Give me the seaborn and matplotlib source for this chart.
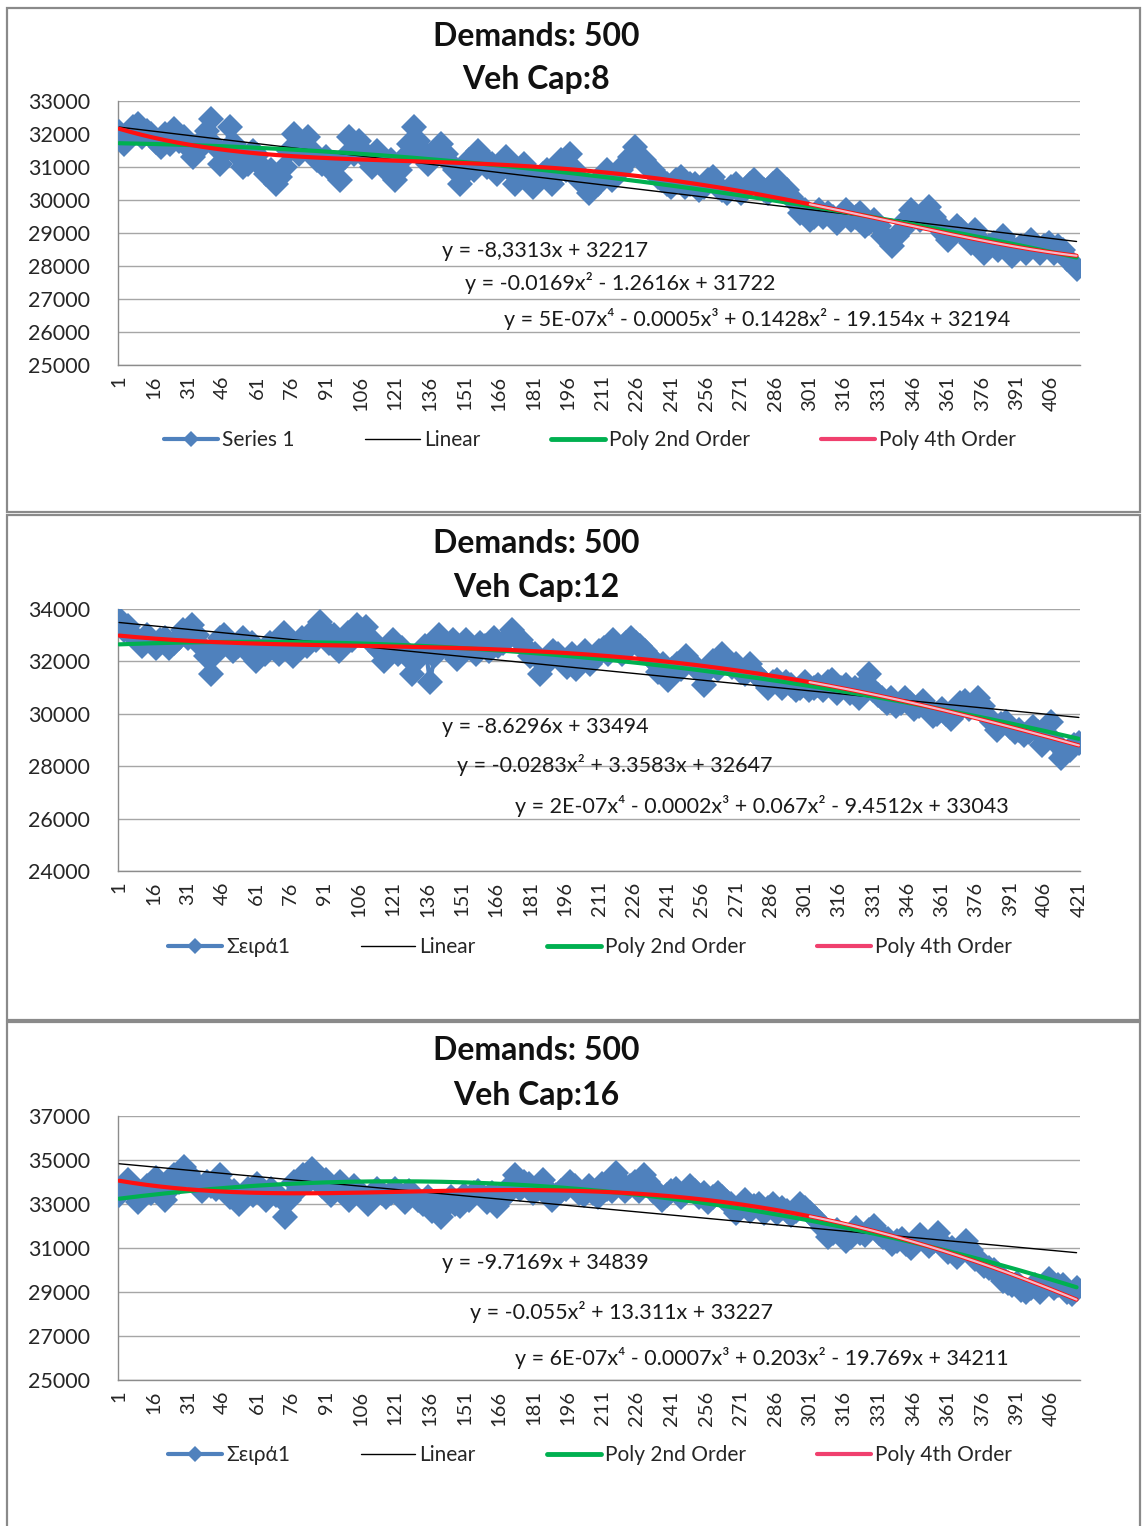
import numpy as np
import pandas as pd
import matplotlib
matplotlib.use("Agg")
import matplotlib.pyplot as plt
import seaborn as sns
from matplotlib.lines import Line2D
from matplotlib.patches import Rectangle

sns.set_theme(style="white")
plt.rcParams["font.family"] = ["Lato", "DejaVu Sans"]

# ---------------------------------------------------------------- data
# Route cost per iteration: iterations 1, 5, 9, ... and the ones in between (3, 7, 11, ...)
cap8_values = [
    32050, 31950, 32300, 32100, 31750, 32000, 32150, 31900, 31300, 31800,
    32450, 31100, 32200, 31300, 31100, 31350, 30800, 30500, 31000, 32000,
    31700, 31500, 31100, 30900, 30600, 31900, 31800, 31200, 31500, 30900,
    30600, 31300, 32200, 31500, 31300, 31700, 31100, 30500, 31200, 31500,
    31000, 30800, 31300, 30500, 31100, 30400, 30800, 30500, 31200, 31400,
    30600, 30200, 30500, 30900, 30800, 31100, 31600, 31200, 30900, 30600,
    30400, 30700, 30500, 30300, 30600, 30400, 30200, 30500, 30300, 30600,
    30300, 30500, 30400, 30100, 29600, 29400, 29700, 29600, 29300, 29700,
    29500, 29200, 29400, 28900, 28600, 29100, 29700, 29400, 29800, 29300,
    28800, 29200, 28900, 29100, 28400, 28700, 28900, 28300, 28600, 28800,
    28400, 28700, 28600, 28200, 27900,
]
cap8_between = [
    31700, 32200, 31900, 32000, 31600, 31700, 31800, 31600, 31500, 32100,
    31600, 31500, 31700, 31000, 31500, 31000, 30900, 30700, 31500, 31400,
    31900, 31200, 31300, 31000, 31300, 31400, 31500, 31000, 31100, 31200,
    30900, 31700, 31800, 31100, 31500, 31400, 30900, 30800, 30900, 31300,
    31100, 31000, 30900, 30800, 30700, 30600, 30900, 30800, 30900, 30900,
    30500, 30400, 30700, 30600, 30900, 31300, 31300, 31000, 30700, 30500,
    30600, 30400, 30500, 30400, 30700, 30300, 30400, 30200, 30500, 30400,
    30200, 30600, 30300, 29900, 29700, 29500, 29500, 29500, 29500, 29400,
    29600, 29300, 29200, 28800, 28900, 29400, 29500, 29600, 29500, 29000,
    29000, 29100, 28700, 28800, 28600, 28500, 28700, 28500, 28400, 28600,
    28600, 28400, 28500, 28100,
]
cap12_values = [
    33600, 33350, 32800, 33000, 32500, 32900, 32700, 33200, 33400, 32600,
    31500, 32900, 32700, 32600, 32400, 32000, 32300, 32600, 33100, 32200,
    32900, 33100, 33500, 32700, 32400, 33100, 33400, 33300, 32600, 32000,
    32800, 32500, 31500, 32300, 31200, 33000, 32500, 32100, 32800, 32300,
    32600, 32900, 32700, 33200, 32800, 32200, 31500, 32000, 32300, 31800,
    31700, 32400, 32100, 32500, 32800, 32300, 32900, 32600, 32200, 31600,
    31300, 31900, 32200, 31800, 31100, 32000, 32300, 31800, 31600, 31900,
    31400, 31000, 31300, 31200, 30900, 31200, 31000, 30900, 31300, 31000,
    30800, 30600, 31500, 30700, 30400, 30300, 30600, 30200, 30500, 29900,
    30200, 29800, 30400, 30200, 30600, 29900, 29400, 29700, 29300, 29200,
    29500, 28800, 29700, 28300, 28600, 28900,
]
cap12_between = [
    33200, 33000, 32600, 32800, 32800, 32500, 32900, 32900, 33000, 32200,
    32300, 33000, 32400, 32900, 32700, 32300, 32700, 32300, 32700, 32600,
    32600, 32800, 33200, 33000, 32700, 32800, 33000, 32900, 32400, 32500,
    32300, 32200, 32000, 32600, 32200, 32700, 32800, 32400, 32500, 32700,
    32400, 32600, 32900, 32900, 32500, 32300, 31900, 32400, 32100, 32300,
    32100, 31900, 32400, 32300, 32600, 32700, 32700, 32400, 32000, 31900,
    31700, 31700, 32000, 31600, 31700, 31700, 32000, 31900, 31500, 31600,
    31200, 31200, 31000, 31100, 31000, 30900, 31100, 31200, 30800, 31100,
    31000, 31100, 30900, 30600, 30600, 30400, 30400, 30300, 30200, 30000,
    30000, 30000, 30500, 30400, 30300, 29700, 29600, 29500, 29400, 29300,
    29300, 29200, 28900, 28500, 28800,
]
cap16_values = [
    33400, 34100, 33100, 33800, 34200, 33200, 34300, 34700, 34100, 33600,
    33800, 34300, 33300, 33000, 33700, 33900, 33200, 33400, 32400, 34000,
    34300, 34600, 33800, 33400, 34000, 33200, 33500, 33000, 33700, 33300,
    33700, 33100, 33400, 33000, 32700, 32400, 33300, 32900, 33200, 33600,
    33100, 32900, 33400, 34300, 34000, 33500, 34100, 33200, 33600, 34000,
    33500, 33800, 33300, 33700, 34400, 33600, 34000, 34300, 33600, 33200,
    33600, 33300, 33800, 33300, 33100, 33500, 33100, 32600, 33200, 32900,
    32600, 33000, 32800, 32500, 33000, 32600, 32200, 31500, 31800, 31300,
    31900, 31600, 32000, 31500, 31200, 31400, 31000, 31600, 31100, 31700,
    30800, 30600, 31300, 30500, 30200, 30000, 29500, 29300, 29100, 29200,
    29000, 29600, 29300, 29000, 29200,
]
cap16_between = [
    33800, 33500, 33400, 33500, 33600, 33700, 34000, 34400, 33900, 34000,
    33700, 33800, 33600, 33400, 33400, 33600, 33700, 33300, 33200, 33700,
    34000, 34200, 34100, 33700, 33600, 33800, 33300, 33400, 33500, 33500,
    33400, 33600, 33200, 33300, 33100, 32900, 33000, 33400, 33500, 33300,
    33500, 33200, 33800, 33700, 33900, 33700, 33700, 33400, 33700, 33800,
    33400, 33500, 33900, 33600, 34000, 33800, 33600, 34000, 33500, 33400,
    33700, 33500, 33600, 33500, 33300, 33300, 33000, 32900, 32700, 33000,
    32800, 32600, 32700, 32700, 32800, 32400, 31900, 31700, 31600, 31500,
    31700, 31800, 31700, 31400, 31300, 31200, 31300, 31300, 31300, 31200,
    31000, 30900, 30900, 30400, 30100, 29800, 29400, 29400, 29000, 29300,
    29300, 29200, 29300, 28900,
]
cap8_count, cap12_count, cap16_count = 418, 421, 418

titles = ["Demands: 500\nVeh Cap:8", "Demands: 500\nVeh Cap:12", "Demands: 500\nVeh Cap:16"]
series_names = ["Series 1", "Σειρά1", "Σειρά1"]
y_ranges = [(25000, 33000, 1000), (24000, 34000, 2000), (25000, 37000, 2000)]

# Excel trendline coefficients (highest power first)
linear_coefs = [(-8.3313, 32217), (-8.6296, 33494), (-9.7169, 34839)]
poly2_coefs = [(-0.0169, -1.2616, 31722), (-0.0283, 3.3583, 32647), (-0.055, 13.311, 33227)]

linear_labels = ["y = -8,3313x + 32217", "y = -8.6296x + 33494", "y = -9.7169x + 34839"]
poly2_labels = ["y = -0.0169x² - 1.2616x + 31722",
                "y = -0.0283x² + 3.3583x + 32647",
                "y = -0.055x² + 13.311x + 33227"]
poly4_labels = ["y = 5E-07x⁴ - 0.0005x³ + 0.1428x² - 19.154x + 32194",
                "y = 2E-07x⁴ - 0.0002x³ + 0.067x² - 9.4512x + 33043",
                "y = 6E-07x⁴ - 0.0007x³ + 0.203x² - 19.769x + 34211"]

# ---------------------------------------------------------------- style
BLUE = "#4F81BD"
GREEN = "#00B050"
RED = "#FF1010"
PINK = "#F2B8C8"
GRID = "#A6A6A6"
AXIS = "#8C8C8C"

W, H = 1144, 1526
fig = plt.figure(figsize=(W / 100, H / 100), dpi=100)


def fx(px):
    return px / W


def fy(py):
    return 1 - py / H


layout = [
    dict(frame=(8, 512), plot=(101, 365), title=(36, 78), eqs=(251, 283, 319), leg=440),
    dict(frame=(515, 1020), plot=(609, 871), title=(543, 586), eqs=(727, 765, 806), leg=947),
    dict(frame=(1022, 1540), plot=(1116, 1380), title=(1051, 1093), eqs=(1263, 1312, 1358), leg=1455),
]
eq_x = [(545, 620, 757), (545, 615, 762), (545, 622, 762)]

series = [(cap8_values, cap8_between), (cap12_values, cap12_between), (cap16_values, cap16_between)]
counts = [cap8_count, cap12_count, cap16_count]

for i in range(3):
    lay = layout[i]
    f_top, f_bot = lay["frame"]
    fig.patches.append(Rectangle((fx(7), fy(f_bot)), fx(1140) - fx(7), (f_bot - f_top) / H,
                                 transform=fig.transFigure, fill=False,
                                 edgecolor="#8A8A8A", linewidth=1.6, zorder=0))

    p_top, p_bot = lay["plot"]
    ax = fig.add_axes([fx(118), fy(p_bot), fx(1080) - fx(118), (p_bot - p_top) / H])
    ax.set_facecolor("none")

    main, between = series[i]
    n = counts[i]
    df = pd.concat([
        pd.DataFrame({"iteration": np.arange(len(main)) * 4 + 1, "cost": main}),
        pd.DataFrame({"iteration": np.arange(len(between)) * 4 + 3, "cost": between}),
    ]).sort_values("iteration").reset_index(drop=True)
    xs = df["iteration"].to_numpy(dtype=float)
    vals = df["cost"].to_numpy(dtype=float)

    sns.lineplot(data=df, x="iteration", y="cost", ax=ax, color=BLUE, linewidth=3.0,
                 marker="D", markersize=13, markeredgewidth=0, zorder=3)

    xfit = np.linspace(xs[0], xs[-1], 500)
    a, b = linear_coefs[i]
    c2 = poly2_coefs[i]
    c4 = np.polyfit(xs, vals, 4)
    fits = pd.DataFrame({
        "x": xfit,
        "lin": a * xfit + b,
        "p2": np.polyval(c2, xfit),
        "p4": np.polyval(c4, xfit),
    })
    sns.lineplot(data=fits, x="x", y="lin", ax=ax, color="black", linewidth=1.0, zorder=4)
    sns.lineplot(data=fits, x="x", y="p2", ax=ax, color=GREEN, linewidth=3.0, zorder=5)
    sns.lineplot(data=fits, x="x", y="p4", ax=ax, color=RED, linewidth=3.0, zorder=6)
    tail = fits[fits["x"] >= 0.72 * n]
    sns.lineplot(data=tail, x="x", y="p4", ax=ax, color=PINK, linewidth=1.6, zorder=7)

    ymin, ymax, ystep = y_ranges[i]
    ax.set_ylim(ymin, ymax)
    ax.set_xlim(0.5, n + 0.5)
    ax.set_yticks(np.arange(ymin, ymax + 1, ystep))
    ax.set_yticklabels([str(v) for v in range(ymin, ymax + 1, ystep)], fontsize=15.5,
                       color="#262626")
    major = np.arange(1, n + 1, 15)
    ax.set_xticks(major)
    ax.set_xticklabels([str(v) for v in major], rotation=90, fontsize=14.5, color="#262626")
    ax.set_xticks(np.arange(0.5, n + 1, 1), minor=True)
    ax.tick_params(axis="x", which="both", direction="inout", length=9, width=0.6,
                   color=AXIS, pad=3)
    ax.tick_params(axis="y", direction="out", length=6, width=1.0, color=AXIS, pad=14)
    ax.set_xlabel("")
    ax.set_ylabel("")
    ax.yaxis.grid(True, color=GRID, linewidth=1.0)
    ax.set_axisbelow(True)
    for s in ("top", "right"):
        ax.spines[s].set_visible(False)
    for s in ("left", "bottom"):
        ax.spines[s].set_color(AXIS)
        ax.spines[s].set_linewidth(1.0)
    if ax.get_legend():
        ax.get_legend().remove()

    t1, t2 = lay["title"]
    line1, line2 = titles[i].split("\n")
    fig.text(fx(536), fy(t1), line1, ha="center", va="center", fontsize=23,
             fontweight="bold", color="#111111")
    fig.text(fx(536), fy(t2 + 2), line2, ha="center", va="center", fontsize=23,
             fontweight="bold", color="#111111")

    e1, e2, e3 = lay["eqs"]
    ex1, ex2, ex3 = eq_x[i]
    for txt, xx, yy in ((linear_labels[i], ex1, e1), (poly2_labels[i], ex2, e2),
                        (poly4_labels[i], ex3, e3)):
        fig.text(fx(xx), fy(yy), txt, ha="center", va="center", fontsize=15.5,
                 color="#1a1a1a", zorder=10)

    handles = [
        Line2D([0], [0], color=BLUE, linewidth=3, marker="D", markersize=8, markeredgewidth=0),
        Line2D([0], [0], color="black", linewidth=1.0),
        Line2D([0], [0], color=GREEN, linewidth=3.5),
        Line2D([0], [0], color="#F0406E", linewidth=3.0),
    ]
    labels = [series_names[i], "Linear", "Poly 2nd Order", "Poly 4th Order"]
    fig.legend(handles, labels, ncol=4, loc="center",
               bbox_to_anchor=(fx(590), fy(lay["leg"])), frameon=False, fontsize=15,
               handlelength=2.6, columnspacing=3.4, handletextpad=0.2,
               labelcolor="#262626")

fig.savefig("out.png", dpi=100, facecolor="white")
